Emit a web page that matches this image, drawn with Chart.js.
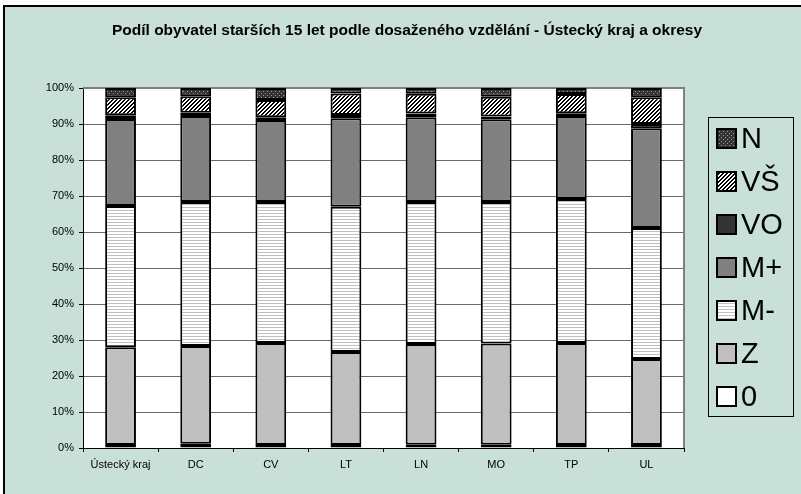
<!DOCTYPE html>
<html>
<head>
<meta charset="utf-8">
<script src="https://cdn.jsdelivr.net/npm/chart.js"></script>
<style>
  html, body { margin: 0; padding: 0; background: #fff; }
  canvas { display: block; }
</style>
</head>
<body>
<canvas id="c" width="801" height="494"></canvas>
<script>
// okresy + kraj
var categories = ['Ústecký kraj', 'DC', 'CV', 'LT', 'LN', 'MO', 'TP', 'UL'];

// podíly v %, zdola nahoru
var s0  = [0.8, 1.2, 0.8, 0.8, 0.9, 0.9, 0.8, 0.8];
var sZ  = [27.2, 27.1, 28.4, 25.9, 28.0, 28.1, 28.4, 23.9];
var sMm = [39.2, 40.0, 39.1, 40.3, 39.4, 39.3, 40.0, 36.4];
var sMp = [24.2, 23.9, 22.8, 24.6, 23.6, 23.0, 23.0, 27.7];
var sVO = [1.0, 0.9, 0.8, 0.9, 1.0, 0.8, 0.8, 1.2];
var sVS = [5.0, 4.6, 4.8, 6.0, 5.5, 5.5, 5.3, 7.4];
var sN  = [2.6, 2.3, 3.3, 1.5, 1.6, 2.4, 1.7, 2.6];

var yTicks = [0, 10, 20, 30, 40, 50, 60, 70, 80, 90, 100];

var BG = '#c8e0d8';
var FONT = "'Liberation Sans', Arial, sans-serif";

// excel-like fill patterns
function pattern(w, h, paint) {
  var c = document.createElement('canvas');
  c.width = w; c.height = h;
  var g = c.getContext('2d');
  paint(g);
  return g.createPattern(c, 'repeat');
}
var patN = pattern(4, 4, function (g) {
  g.fillStyle = '#333'; g.fillRect(0, 0, 4, 4);
  g.fillStyle = '#9a9a9a'; g.fillRect(1, 1, 1, 1); g.fillRect(3, 3, 1, 1);
});
var patVS = pattern(4, 4, function (g) {
  g.fillStyle = '#fff'; g.fillRect(0, 0, 4, 4);
  g.fillStyle = '#000';
  for (var y = 0; y < 4; y++) {
    g.fillRect((3 - y + 4) % 4, y, 1, 1);
    g.fillRect((4 - y + 4) % 4, y, 1, 1);
  }
});
var patMm = pattern(4, 3, function (g) {
  g.fillStyle = '#fff'; g.fillRect(0, 0, 4, 3);
  g.fillStyle = '#c0c0c0'; g.fillRect(0, 0, 4, 1);
});

var series = [
  { label: '0',  data: s0,  fill: '#ffffff' },
  { label: 'Z',  data: sZ,  fill: '#c0c0c0' },
  { label: 'M-', data: sMm, fill: patMm },
  { label: 'M+', data: sMp, fill: '#808080' },
  { label: 'VO', data: sVO, fill: '#333333' },
  { label: 'VŠ', data: sVS, fill: patVS },
  { label: 'N',  data: sN,  fill: patN }
];

var frame = {
  id: 'frame',
  beforeDraw: function (chart) {
    var ctx = chart.ctx, a = chart.chartArea;
    ctx.save();
    ctx.fillStyle = '#fff';
    ctx.fillRect(0, 0, chart.width, chart.height);
    ctx.fillStyle = BG;
    ctx.fillRect(4, 6, chart.width, chart.height);
    ctx.fillStyle = '#000';
    ctx.fillRect(3, 5, chart.width, 2);
    ctx.fillRect(3, 5, 2, chart.height);
    ctx.fillStyle = '#fff';
    ctx.fillRect(a.left, a.top, a.right - a.left, a.bottom - a.top);
    ctx.restore();
  },
  beforeDatasetsDraw: function (chart) {
    var ctx = chart.ctx, a = chart.chartArea;
    ctx.save();
    ctx.strokeStyle = '#808080';
    ctx.lineWidth = 2;
    ctx.beginPath();
    ctx.moveTo(a.left, a.top);
    ctx.lineTo(a.right, a.top);
    ctx.lineTo(a.right, a.bottom);
    ctx.stroke();
    ctx.restore();
  },
  afterDraw: function (chart) {
    var ctx = chart.ctx;
    ctx.save();
    // title
    ctx.fillStyle = '#000';
    ctx.font = 'bold 15.5px ' + FONT;
    ctx.textAlign = 'center';
    ctx.textBaseline = 'middle';
    ctx.fillText('Podíl obyvatel starších 15 let podle dosaženého vzdělání - Ústecký kraj a okresy', 407, 31);
    // legend (reversed order, like excel)
    ctx.fillStyle = BG;
    ctx.fillRect(708, 117, 85, 299);
    ctx.strokeStyle = '#000';
    ctx.lineWidth = 1;
    ctx.strokeRect(708.5, 117.5, 85, 299);
    ctx.font = '29px ' + FONT;
    ctx.textAlign = 'left';
    var items = series.slice().reverse();
    items.forEach(function (s, i) {
      var cy = 139 + i * 43;
      ctx.fillStyle = s.fill;
      ctx.fillRect(717, cy - 10, 19, 19);
      ctx.lineWidth = 2;
      ctx.strokeStyle = '#000';
      ctx.strokeRect(717, cy - 10, 19, 19);
      ctx.fillStyle = '#000';
      ctx.fillText(s.label, 741, cy + 1);
    });
    ctx.restore();
  }
};

new Chart(document.getElementById('c'), {
  type: 'bar',
  data: {
    labels: categories,
    datasets: series.map(function (s) {
      return {
        label: s.label,
        data: s.data,
        backgroundColor: s.fill,
        borderColor: '#000',
        borderWidth: 2,
        borderSkipped: false,
        barPercentage: 0.41,
        categoryPercentage: 1
      };
    })
  },
  options: {
    responsive: false,
    animation: false,
    devicePixelRatio: 1,
    layout: { padding: { left: 0, top: 88, right: 117, bottom: 0 } },
    plugins: {
      legend: { display: false },
      title: { display: false },
      tooltip: { enabled: false }
    },
    scales: {
      x: {
        stacked: true,
        afterFit: function (s) { s.height = 46; },
        grid: { display: true, drawOnChartArea: false, offset: true, tickLength: 4, tickColor: '#000' },
        border: { color: '#000', width: 1 },
        ticks: { color: '#000', font: { family: FONT, size: 11 }, padding: 6, maxRotation: 0 }
      },
      y: {
        stacked: true,
        min: 0,
        max: 100,
        afterFit: function (s) { s.width = 83; },
        afterBuildTicks: function (s) { s.ticks = yTicks.map(function (v) { return { value: v }; }); },
        grid: { color: '#6a6a6a', tickColor: '#000', tickLength: 4 },
        border: { color: '#000', width: 1 },
        ticks: {
          color: '#000',
          font: { family: FONT, size: 11 },
          padding: 5,
          callback: function (v) { return v + '%'; }
        }
      }
    }
  },
  plugins: [frame]
});
</script>
</body>
</html>
